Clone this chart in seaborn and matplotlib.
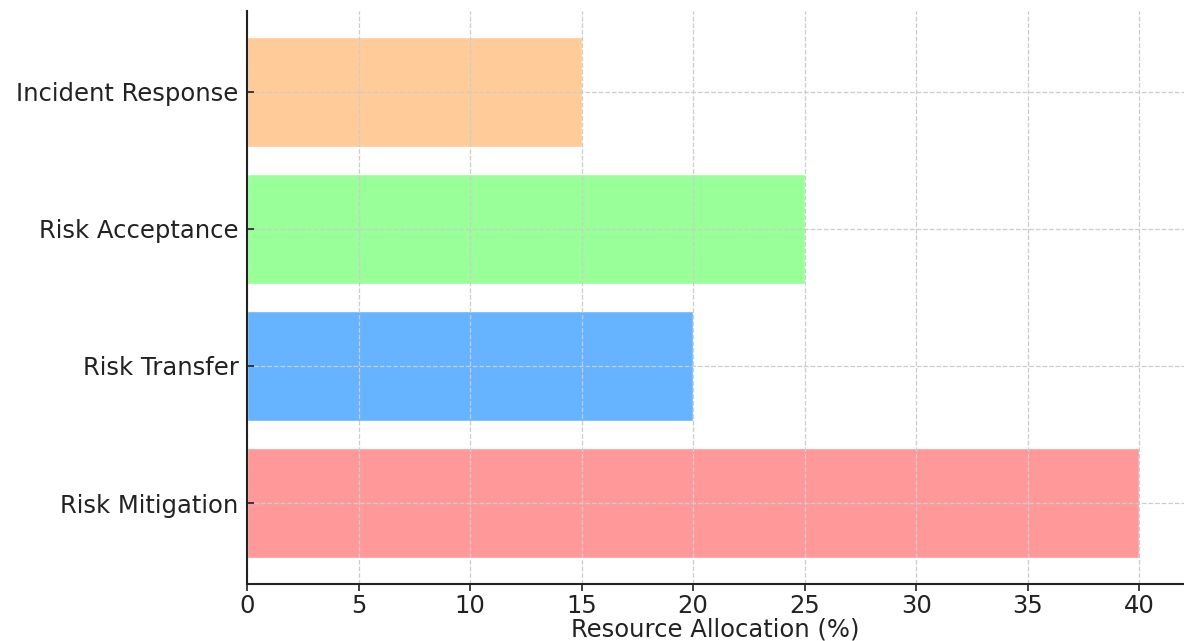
import matplotlib
matplotlib.use("Agg")
import matplotlib.pyplot as plt
import seaborn as sns
import pandas as pd

# Data (bottom to top as drawn)
strategies = ["Risk Mitigation", "Risk Transfer", "Risk Acceptance", "Incident Response"]
allocation = [40, 20, 25, 15]
colors = ["#ff9999", "#66b3ff", "#99ff99", "#ffcc99"]

df = pd.DataFrame({"Strategy": strategies, "Allocation": allocation})

sns.set_style("white")
plt.rcParams["font.family"] = ["DejaVu Sans"]

fig = plt.figure(figsize=(11.84, 6.41), dpi=100)
ax = fig.add_axes([0.2086, 0.089, 0.7914, 0.894])

sns.barplot(
    data=df, x="Allocation", y="Strategy", hue="Strategy",
    order=strategies[::-1], hue_order=strategies, palette=colors,
    orient="h", width=0.8, saturation=1, legend=False, ax=ax,
)

ax.set_xlim(0, 42)
ax.set_ylim(3.59, -0.59)
ax.set_xticks(range(0, 41, 5))
ax.set_ylabel("")
ax.set_xlabel("Resource Allocation (%)", fontsize=17.5, color="#222222", labelpad=0)

# grid sits on top of the bars like in the original
ax.grid(True, linestyle="--", color="#cccccc", linewidth=0.9)
ax.set_axisbelow(False)

for side in ["top", "right"]:
    ax.spines[side].set_visible(False)
for side in ["left", "bottom"]:
    ax.spines[side].set_color("#222222")
    ax.spines[side].set_linewidth(1.5)
    ax.spines[side].set_zorder(5)

ax.tick_params(axis="x", labelsize=17.5, colors="#222222", length=5, width=1.2, direction="out", bottom=True, pad=2)
ax.tick_params(axis="y", labelsize=17.5, colors="#222222", length=5, width=1.2, direction="in", left=True, pad=6)

fig.savefig("out.png", dpi=100)
plt.close()
